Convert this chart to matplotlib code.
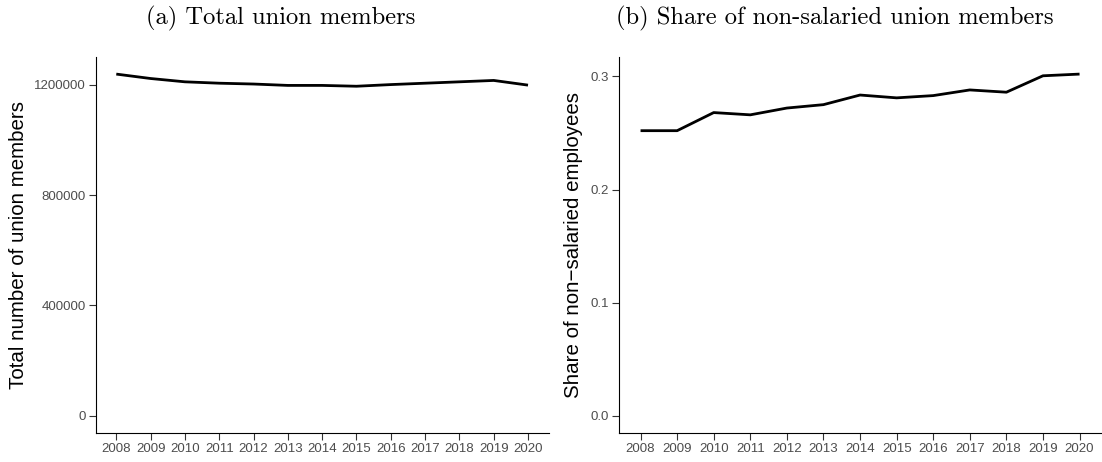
import matplotlib
matplotlib.use("Agg")
import matplotlib.pyplot as plt

years = [2008, 2009, 2010, 2011, 2012, 2013, 2014, 2015, 2016, 2017, 2018, 2019, 2020]
total_members = [1238000, 1222000, 1210000, 1205000, 1202000, 1197000, 1197000,
                 1194000, 1200000, 1205000, 1210000, 1215000, 1198000]
share_nonsalaried = [0.252, 0.252, 0.268, 0.266, 0.272, 0.275, 0.2835,
                     0.281, 0.283, 0.288, 0.286, 0.3005, 0.302]

left_yticks = [0, 400000, 800000, 1200000]
left_yticklabels = ["0", "400000", "800000", "1200000"]
right_yticks = [0.0, 0.1, 0.2, 0.3]
right_yticklabels = ["0.0", "0.1", "0.2", "0.3"]

title_a = "(a) Total union members"
title_b = "(b) Share of non-salaried union members"
ylabel_a = "Total number of union members"
ylabel_b = "Share of non\u2212salaried employees"

W, H = 1102, 462
fig = plt.figure(figsize=(W / 100, H / 100), dpi=100)
fig.patch.set_facecolor("white")

def px_axes(x0, x1, ytop, ybot):
    return fig.add_axes([x0 / W, (H - ybot) / H, (x1 - x0) / W, (ybot - ytop) / H])

ax1 = px_axes(95.7, 548.6, 57, 433)
ax2 = px_axes(618.6, 1101.5, 57, 433)

def style(ax, x, y, yticks, yticklabels, ylabel, label_x):
    ax.plot(x, y, color="black", linewidth=2.0, solid_capstyle="butt", solid_joinstyle="round")
    span = x[-1] - x[0]
    ax.set_xlim(x[0] - 0.05 * span, x[-1] + 0.05 * span)
    m = max(y)
    ax.set_ylim(-0.05 * m, 1.05 * m)
    ax.set_xticks(x)
    ax.set_xticklabels([str(v) for v in x])
    ax.set_yticks(yticks)
    ax.set_yticklabels(yticklabels)
    for s in ["top", "right"]:
        ax.spines[s].set_visible(False)
    for s in ["left", "bottom"]:
        ax.spines[s].set_color("black")
        ax.spines[s].set_linewidth(0.8)
    ax.tick_params(axis="both", length=5, width=0.8, color="#333333",
                   labelcolor="#4D4D4D", labelsize=9.5, pad=2,
                   labelfontfamily="Liberation Sans")
    ax.set_ylabel(ylabel, fontsize=14.8, fontfamily="Liberation Sans", color="black")
    ax.yaxis.set_label_coords(label_x, 0.5)

style(ax1, years, total_members, left_yticks, left_yticklabels, ylabel_a,
      (28 - 95.7) / (548.6 - 95.7))
style(ax2, years, share_nonsalaried, right_yticks, right_yticklabels, ylabel_b,
      (583 - 618.6) / (1101.5 - 618.6))

fig.text(281 / W, 1 - 18.5 / H, title_a, fontfamily="cmr10", fontsize=17.7,
         ha="center", va="center")
fig.text(835 / W, 1 - 18.5 / H, title_b, fontfamily="cmr10", fontsize=17.7,
         ha="center", va="center")

fig.savefig("out.png", dpi=100, facecolor="white")
